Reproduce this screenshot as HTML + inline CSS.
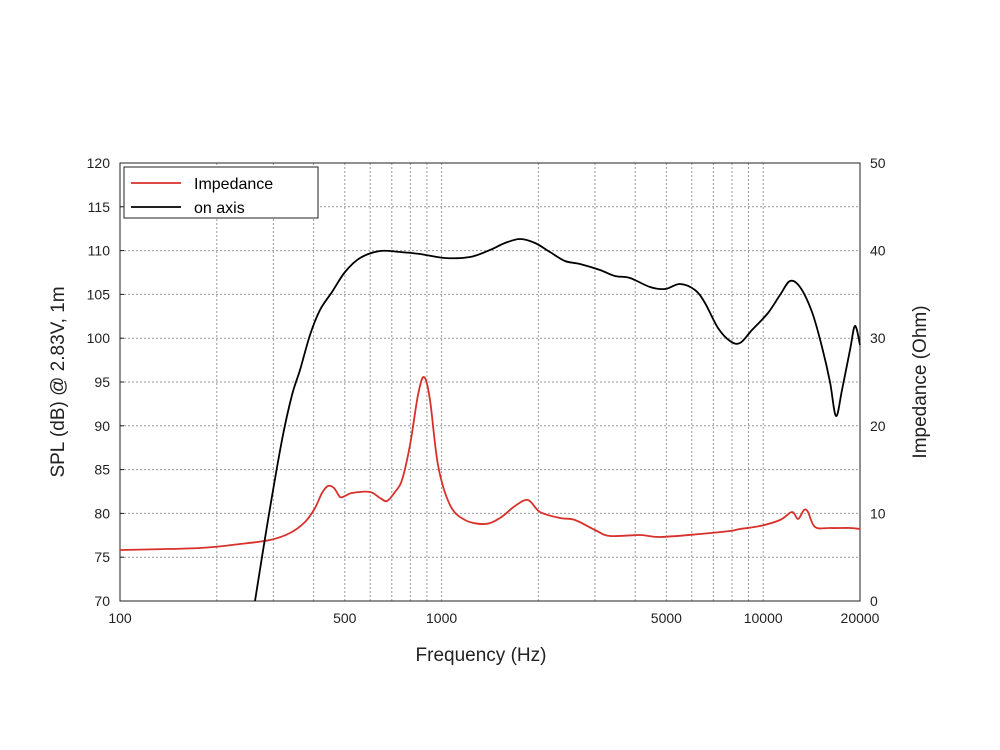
<!DOCTYPE html>
<html><head><meta charset="utf-8">
<style>
html,body{margin:0;padding:0;background:#fff;}
svg{display:block;font-family:"Liberation Sans",sans-serif;}
</style></head>
<body>
<svg id="s" width="1000" height="750" viewBox="0 0 1000 750" xmlns="http://www.w3.org/2000/svg"></svg>
<script>
const s=document.getElementById('s');
const L=120,R=860,T=163,B=601;
const dec=(R-L)/Math.log10(200);
const X=f=>L+dec*Math.log10(f/100);
let h='';
// vertical grid
const fs=[];
for(let f=200;f<1000;f+=100)fs.push(f);
for(let f=1000;f<10000;f+=1000)fs.push(f);
fs.push(10000);
for(const f of fs){const x=X(f).toFixed(1);h+=`<line x1="${x}" y1="${T}" x2="${x}" y2="${B}" stroke="#999" stroke-width="1" stroke-dasharray="2,2"/>`;}
// horizontal grid
for(let v=75;v<120;v+=5){const y=(B-(v-70)*(B-T)/50).toFixed(1);h+=`<line x1="${L}" y1="${y}" x2="${R}" y2="${y}" stroke="#999" stroke-width="1" stroke-dasharray="2,2"/>`;}
h+=`<rect x="${L}" y="${T}" width="${R-L}" height="${B-T}" fill="none" stroke="#222" stroke-width="1"/>`;
// left labels
for(let v=70;v<=120;v+=5){const y=B-(v-70)*(B-T)/50;h+=`<text x="110" y="${y+5}" font-size="14" text-anchor="end" fill="#222">${v}</text>`;h+=`<line x1="${L}" y1="${y}" x2="${L+4}" y2="${y}" stroke="#222"/>`;}
for(let v=0;v<=50;v+=10){const y=B-v*(B-T)/50;h+=`<text x="870" y="${y+5}" font-size="14" fill="#222">${v}</text>`;}
// x labels
for(const f of [100,500,1000,5000,10000,20000]){h+=`<text x="${X(f)}" y="623" font-size="14" text-anchor="middle" fill="#222">${f}</text>`;}
h+=`<text x="481" y="661" font-size="19" text-anchor="middle" fill="#222">Frequency (Hz)</text>`;
h+=`<text transform="translate(64,382) rotate(-90)" font-size="19" text-anchor="middle" fill="#222">SPL (dB) @ 2.83V, 1m</text>`;
h+=`<text transform="translate(926,382) rotate(-90)" font-size="19" text-anchor="middle" fill="#222">Impedance (Ohm)</text>`;
function path(p){let d=`M${p[0][0]},${p[0][1]}`;
for(let i=0;i<p.length-1;i++){const p0=p[i-1]||p[i],p1=p[i],p2=p[i+1],p3=p[i+2]||p2;
const c1=[p1[0]+(p2[0]-p0[0])/6,p1[1]+(p2[1]-p0[1])/6],c2=[p2[0]-(p3[0]-p1[0])/6,p2[1]-(p3[1]-p1[1])/6];
d+=` C${c1[0].toFixed(1)},${c1[1].toFixed(1)} ${c2[0].toFixed(1)},${c2[1].toFixed(1)} ${p2[0]},${p2[1]}`;}return d;}
const red=[[120,550],[200,548],[240,544],[270,540],[290,533],[305,522],[315,508],[322,493],[328,486],[334,488],[340,497],[345,496],[352,493],[370,492],[380,498],[387,501],[395,492],[402,480],[410,445],[418,395],[424,377],[430,400],[438,465],[450,505],[465,520],[485,524],[500,518],[515,506],[528,500],[540,512],[560,518],[575,520],[595,530],[610,536],[640,535],[660,537],[700,534],[730,531],[740,529],[760,526],[780,520],[792,512],[798,519],[804,510],[808,512],[815,527],[830,528],[850,528],[860,529]];
const blk=[[255,601],[268,520],[282,440],[292,395],[300,370],[310,335],[320,310],[332,292],[345,272],[360,258],[380,251],[400,252],[420,254],[445,258],[470,257],[490,250],[505,243],[520,239],[535,243],[550,252],[565,261],[580,264],[600,270],[615,276],[630,278],[650,287],[665,289],[680,284],[695,290],[705,303],[718,328],[730,341],[740,343],[752,330],[768,313],[780,295],[790,281],[800,287],[812,312],[822,347],[830,382],[836,416],[842,390],[850,350],[855,326],[860,345]];
h+=`<path d="${path(red)}" fill="none" stroke="#d8302a" stroke-width="1.8"/>`;
h+=`<path d="${path(blk)}" fill="none" stroke="#000" stroke-width="1.8"/>`;
// legend
h+=`<rect x="124" y="167" width="194" height="51" fill="#fff" stroke="#222"/>`;
h+=`<line x1="131" y1="183" x2="181" y2="183" stroke="#d8302a" stroke-width="1.8"/>`;
h+=`<text x="194" y="189" font-size="16" fill="#000">Impedance</text>`;
h+=`<line x1="131" y1="207" x2="181" y2="207" stroke="#000" stroke-width="1.8"/>`;
h+=`<text x="194" y="213" font-size="16" fill="#000">on axis</text>`;
s.innerHTML=h;
</script>
</body></html>
